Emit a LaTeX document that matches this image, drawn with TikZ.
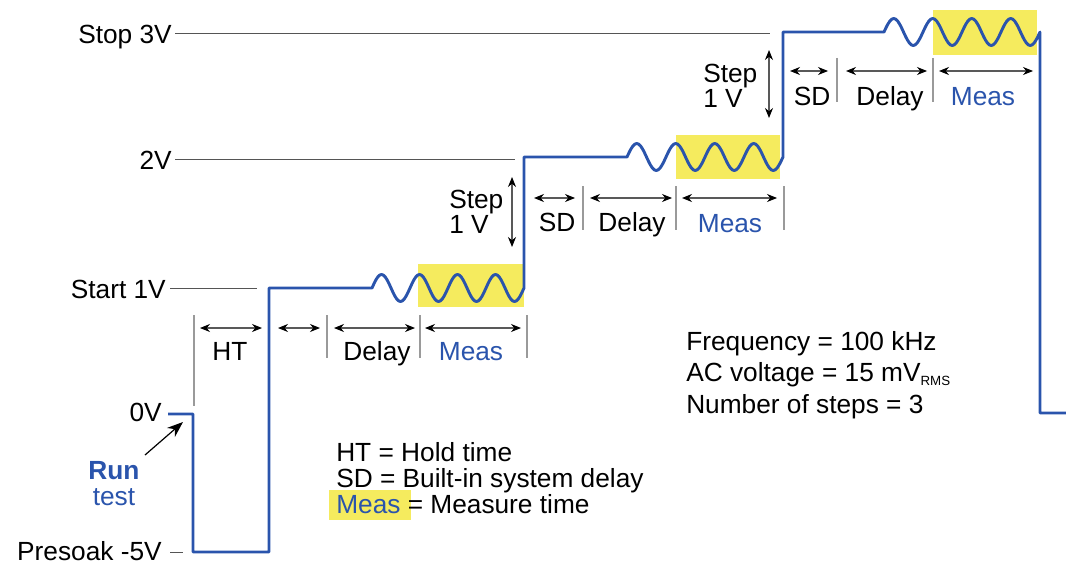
\documentclass[tikz,border=0pt]{standalone}
\usepackage{fontspec}
\setmainfont{Liberation Sans}
\usetikzlibrary{arrows.meta}
\definecolor{wblue}{HTML}{2A54AC}
\definecolor{hyel}{HTML}{F5EB5E}
\definecolor{refgray}{HTML}{555555}
\definecolor{tickgray}{HTML}{9A9A9A}
\begin{document}
\begin{tikzpicture}[x=0.75pt,y=-0.75pt,
  lbl/.style={font=\fontsize{19.7}{23}\selectfont, inner sep=0pt},
  bluelbl/.style={lbl, text=wblue},
  refline/.style={draw=refgray, line width=0.7pt},
  tickline/.style={draw=tickgray, line width=0.9pt},
  dimarrow/.style={draw=black!65, line width=0.8pt,
    {Stealth[color=black,length=7.5pt,width=6pt]}-{Stealth[color=black,length=7.5pt,width=6pt]}},
  wave/.style={draw=wblue, line width=2.2pt, line join=round}
]
\useasboundingbox (0,0) rectangle (1066,567);

% highlight boxes
\fill[hyel] (418,264) rectangle (524,307);
\fill[hyel] (676,135) rectangle (780,179);
\fill[hyel] (933,10) rectangle (1037,55);
\fill[hyel] (329,490) rectangle (411,520);

% level labels
\node[lbl, anchor=base east] (l3) at (172,44) {Stop 3V};
\node[lbl, anchor=base east] (l2) at (172,169) {2V};
\node[lbl, anchor=base east] (l1) at (166,298) {Start 1V};
\node[lbl, anchor=base east] (l0) at (162,421) {0V};
\node[lbl, anchor=base east] (lp) at (162,560) {Presoak -5V};

% reference lines
\draw[refline] (175,33) -- (770,33);
\draw[refline] (175,159) -- (515,159);
\draw[refline] (170,288) -- (257,288);
\draw[refline] (170,552) -- (183,552);

% waveform
\draw[wave] (168,414) -- (193,414) -- (193,552) -- (269,552) -- (269,288) -- (372,288)
  -- plot[smooth, domain=0:4, samples=81] ({372+38*\x},{288-13.5*sin(360*\x)})
  -- (524,157) -- (627,157)
  -- plot[smooth, domain=0:4, samples=81] ({627+39*\x},{157-13.5*sin(360*\x)})
  -- (783,32) -- (884,32)
  -- plot[smooth, domain=0:4, samples=81] ({884+39*\x},{32-13.5*sin(360*\x)})
  -- (1040,413) -- (1066,413);

% level 1 ticks and arrows
\draw[tickline] (194,315) -- (194,406);
\draw[tickline] (327,315) -- (327,358);
\draw[tickline] (420,315) -- (420,358);
\draw[tickline] (527,315) -- (527,358);
\coordinate (a1) at (200,328); \coordinate (b1) at (262,328);
\coordinate (a2) at (278,328); \coordinate (b2) at (320,328);
\coordinate (a3) at (334,328); \coordinate (b3) at (415,328);
\coordinate (a4) at (425,328); \coordinate (b4) at (521,328);
\draw[dimarrow] (a1) -- (b1);
\draw[dimarrow] (a2) -- (b2);
\draw[dimarrow] (a3) -- (b3);
\draw[dimarrow] (a4) -- (b4);
\node[lbl, anchor=base] (ht) at (230,360) {HT};
\node[lbl, anchor=base] (d1) at (377,360) {Delay};
\node[bluelbl, anchor=base] (m1) at (471,360) {Meas};

% level 2 ticks and arrows
\draw[tickline] (583,186) -- (583,230);
\draw[tickline] (676,186) -- (676,230);
\draw[tickline] (784,186) -- (784,230);
\coordinate (c1) at (534,198); \coordinate (e1) at (575,198);
\coordinate (c2) at (590,198); \coordinate (e2) at (672,198);
\coordinate (c3) at (682,198); \coordinate (e3) at (777,198);
\draw[dimarrow] (c1) -- (e1);
\draw[dimarrow] (c2) -- (e2);
\draw[dimarrow] (c3) -- (e3);
\node[lbl, anchor=base] (sd2) at (557,231) {SD};
\node[lbl, anchor=base] (d2) at (632,231) {Delay};
\node[bluelbl, anchor=base] (m2) at (730,232) {Meas};
\coordinate (s2a) at (512,177); \coordinate (s2b) at (512,247);
\draw[dimarrow] (s2a) -- (s2b);
\node[lbl, anchor=base west] (st2a) at (449,208) {Step};
\node[lbl, anchor=base west] (st2b) at (449,233) {1 V};

% level 3 ticks and arrows
\draw[tickline] (837,58) -- (837,102);
\draw[tickline] (933,58) -- (933,102);
\coordinate (f1) at (790,71); \coordinate (g1) at (828,71);
\coordinate (f2) at (846,71); \coordinate (g2) at (927,71);
\coordinate (f3) at (939,71); \coordinate (g3) at (1033,71);
\draw[dimarrow] (f1) -- (g1);
\draw[dimarrow] (f2) -- (g2);
\draw[dimarrow] (f3) -- (g3);
\node[lbl, anchor=base] (sd3) at (812,105) {SD};
\node[lbl, anchor=base] (d3) at (890,105) {Delay};
\node[bluelbl, anchor=base] (m3) at (983,105) {Meas};
\coordinate (s3a) at (769,50); \coordinate (s3b) at (769,118);
\draw[dimarrow] (s3a) -- (s3b);
\node[lbl, anchor=base west] (st3a) at (703,83) {Step};
\node[lbl, anchor=base west] (st3b) at (703,108) {1 V};

% run test
\node[bluelbl, anchor=base, font=\fontsize{19.7}{23}\selectfont\bfseries] (run) at (114,479) {Run};
\node[bluelbl, anchor=base] (tst) at (114,505) {test};
\coordinate (rt0) at (145,455); \coordinate (rt1) at (183,422);
\draw[draw=black, line width=0.9pt, -{Stealth[length=12pt,width=9pt]}] (rt0) -- (rt1);

% legend
\node[lbl, anchor=base west] (lg1) at (336,461) {HT = Hold time};
\node[lbl, anchor=base west] (lg2) at (336,487) {SD = Built-in system delay};
\node[lbl, anchor=base west] (lg3) at (336,513) {\textcolor{wblue}{Meas} = Measure time};

% parameters
\node[lbl, anchor=base west] (p1) at (686,350) {Frequency = 100 kHz};
\node[lbl, anchor=base west] (p2) at (686,381) {AC voltage = 15 mV\raisebox{-0.35ex}{\fontsize{10}{12}\selectfont RMS}};
\node[lbl, anchor=base west] (p3) at (686,413) {Number of steps = 3};
\end{tikzpicture}
\end{document}
